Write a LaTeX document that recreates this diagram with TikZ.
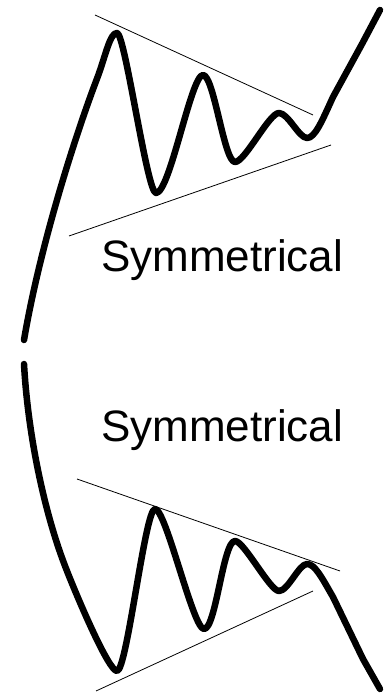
\documentclass[tikz,border=0pt]{standalone}
\usepackage{fontspec}
\setmainfont{Liberation Sans}
\usepackage{tikz}

\begin{document}
\begin{tikzpicture}[x=1pt, y=1pt,
    wave/.style={line width=6.5pt, line cap=round, line join=round},
    trend/.style={line width=0.8pt},
    lbl/.style={font=\fontsize{44}{44}\selectfont, anchor=base west, inner sep=0pt}]
  \useasboundingbox (0,0) rectangle (384,696);
  % upper pattern: break out upwards
  \draw[wave] (24,356) .. controls (40,450) and (75,560) .. (98,620)
    .. controls (106,642) and (110,663) .. (117,663)
    .. controls +(8,0) and +(-9,0) .. (156,503)
    .. controls +(14,0) and +(-12,0) .. (203,621)
    .. controls +(11,0) and +(-11,0) .. (235,534)
    .. controls +(10,0) and +(-10,0) .. (279,583)
    .. controls +(9,0) and +(-8,0) .. (307,558)
    .. controls (315,558) and (322,575) .. (333,599) -- (362,652) -- (380,686);
  % lower pattern: break out downwards
  \draw[wave] (24,332) .. controls (28,260) and (45,180) .. (67,125)
    .. controls (80,92) and (109,25) .. (117,25)
    .. controls +(10,0) and +(-10,0) .. (155,187)
    .. controls +(11,0) and +(-11,0) .. (204,67)
    .. controls +(12,0) and +(-12,0) .. (235,155)
    .. controls +(9,0) and +(-9,0) .. (279,105)
    .. controls +(9,0) and +(-8,0) .. (307,132)
    .. controls (315,132) and (322,118) .. (333,99) -- (363,37) -- (380,7);
  \foreach \xa/\ya/\xb/\yb in {95/681/313/581, 69/460/331/551,
      77/217/340/125, 96/5/313/105}
    \draw[trend] (\xa,\ya) -- (\xb,\yb);
  \foreach \yy/\nm in {424/top, 254/bot}
    \node[lbl] (sym\nm) at (101,\yy) {Symmetrical};
\end{tikzpicture}
\end{document}
